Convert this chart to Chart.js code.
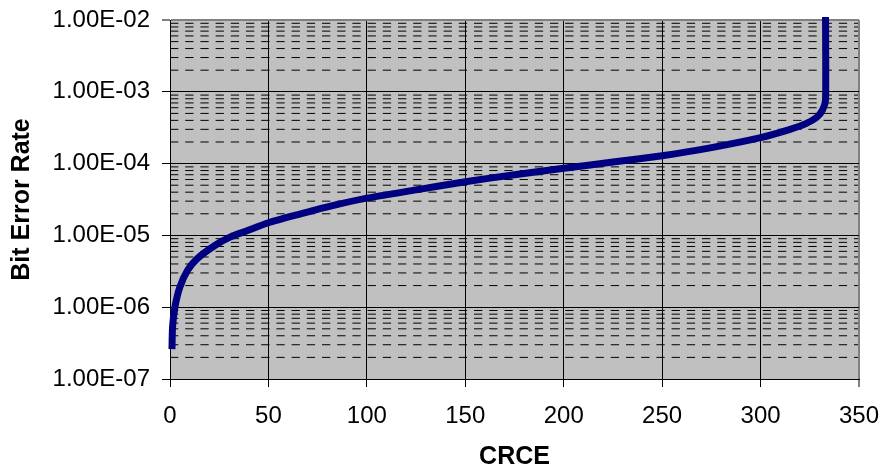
<!DOCTYPE html>
<html>
<head>
<meta charset="utf-8">
<script src="https://cdn.jsdelivr.net/npm/chart.js@4.4.1/dist/chart.umd.min.js"></script>
<style>
    html, body { margin: 0; padding: 0; background: #fff; }
    #wrap { width: 882px; height: 472px; position: relative; }
</style>
</head>
<body>
<div id="wrap"><canvas id="myChart"></canvas></div>
<script>
// CRCE count vs bit error rate
const crce = [1, 1.3, 2.5, 5, 9, 14, 23, 31, 38, 50, 65, 80, 100, 125, 150, 175,
    200, 225, 250, 273, 300, 315, 323, 328.5, 331.5, 333, 333];
const ber = [2.6e-7, 5.3e-7, 1.0e-6, 1.9e-6, 3.3e-6, 4.8e-6, 7.3e-6, 9.6e-6, 1.13e-5,
    1.5e-5, 1.95e-5, 2.5e-5, 3.3e-5, 4.3e-5, 5.6e-5, 7.0e-5, 8.6e-5, 1.05e-4,
    1.29e-4, 1.63e-4, 2.3e-4, 3.0e-4, 3.6e-4, 4.4e-4, 5.6e-4, 7.7e-4, 1.1e-2];

// Axis ticks
const yDecades = [1e-7, 1e-6, 1e-5, 1e-4, 1e-3, 1e-2];
const yLabels = ['1.00E-07', '1.00E-06', '1.00E-05', '1.00E-04', '1.00E-03', '1.00E-02'];
const yMinorSteps = [2, 3, 4, 5, 6, 7, 8, 9];
const xTicks = [0, 50, 100, 150, 200, 250, 300, 350];

const FONT = "'Liberation Sans', Arial, sans-serif";

function decadeIndex(v) {
    return yDecades.findIndex(d => Math.abs(Math.log10(v) - Math.log10(d)) < 1e-6);
}

// grey plot area
const plotBackground = {
    id: 'plotBackground',
    beforeDraw(chart) {
        const {ctx, chartArea: a} = chart;
        ctx.save();
        ctx.fillStyle = '#C0C0C0';
        ctx.fillRect(a.left, a.top, a.right - a.left, a.bottom - a.top);
        ctx.restore();
    }
};

// dashed minor grid lines at 2..9 x each decade, placed by the y scale
const minorGrid = {
    id: 'minorGrid',
    beforeDatasetsDraw(chart) {
        const {ctx, chartArea: a} = chart;
        const y = chart.scales.y;
        ctx.save();
        ctx.strokeStyle = '#000';
        ctx.lineWidth = 1;
        ctx.setLineDash([8.3, 6.9]);
        yDecades.slice(0, -1).forEach(d => {
            yMinorSteps.forEach(s => {
                const py = y.getPixelForValue(s * d);
                ctx.beginPath();
                ctx.moveTo(a.left, py);
                ctx.lineTo(a.right - 1, py);
                ctx.stroke();
            });
        });
        ctx.restore();
    }
};

const points = crce.map((x, i) => ({x: x, y: ber[i]}));

const ctx = document.getElementById('myChart').getContext('2d');
new Chart(ctx, {
    type: 'line',
    data: {
        datasets: [{
            data: points,
            borderColor: '#000080',
            borderWidth: 7,
            pointRadius: 0,
            tension: 0.2,
            fill: false,
            clip: false,
            borderJoinStyle: 'round'
        }]
    },
    options: {
        responsive: true,
        maintainAspectRatio: false,
        animation: false,
        layout: {
            padding: {top: 20, right: 23, left: 0, bottom: 0}
        },
        plugins: {
            legend: {display: false},
            tooltip: {enabled: false}
        },
        scales: {
            x: {
                type: 'linear',
                min: 0,
                max: 350,
                afterFit: scale => {
                    scale.height = 93;
                    scale.paddingLeft = 0;
                    scale.paddingRight = 0;
                },
                afterBuildTicks: scale => {
                    scale.ticks = xTicks.map(v => ({value: v}));
                },
                ticks: {
                    color: '#000',
                    padding: 15,
                    maxRotation: 0,
                    autoSkip: false,
                    font: {family: FONT, size: 24}
                },
                grid: {
                    color: c => (c.tick && c.tick.value === 350) ? '#808080' : '#000',
                    lineWidth: c => (c.tick && c.tick.value === 350) ? 2 : 1,
                    tickColor: '#000',
                    tickLength: 8,
                    tickWidth: 1
                },
                border: {color: '#000', width: 1},
                title: {
                    display: true,
                    text: 'CRCE',
                    color: '#000',
                    font: {family: FONT, size: 25, weight: 'bold', lineHeight: 1.2},
                    padding: {top: 0, bottom: 0}
                }
            },
            y: {
                type: 'logarithmic',
                min: 1e-7,
                max: 1e-2,
                afterFit: scale => {
                    scale.width = 170;
                    scale.paddingTop = 0;
                    scale.paddingBottom = 0;
                },
                afterBuildTicks: scale => {
                    scale.ticks = yDecades.map(d => ({value: d, major: true}));
                },
                ticks: {
                    color: '#000',
                    padding: 12,
                    autoSkip: false,
                    font: {family: FONT, size: 24},
                    callback: value => {
                        const i = decadeIndex(value);
                        return i >= 0 ? yLabels[i] : '';
                    }
                },
                grid: {
                    color: c => (c.tick && decadeIndex(c.tick.value) === yDecades.length - 1) ? '#808080' : '#000',
                    lineWidth: c => (c.tick && decadeIndex(c.tick.value) === yDecades.length - 1) ? 2 : 1,
                    tickColor: '#000',
                    tickLength: 8,
                    tickWidth: 1
                },
                border: {color: '#000', width: 1},
                title: {
                    display: true,
                    text: 'Bit Error Rate',
                    color: '#000',
                    font: {family: FONT, size: 25, weight: 'bold', lineHeight: 1.2},
                    padding: {top: 7, bottom: 0}
                }
            }
        }
    },
    plugins: [plotBackground, minorGrid]
});
</script>
</body>
</html>
